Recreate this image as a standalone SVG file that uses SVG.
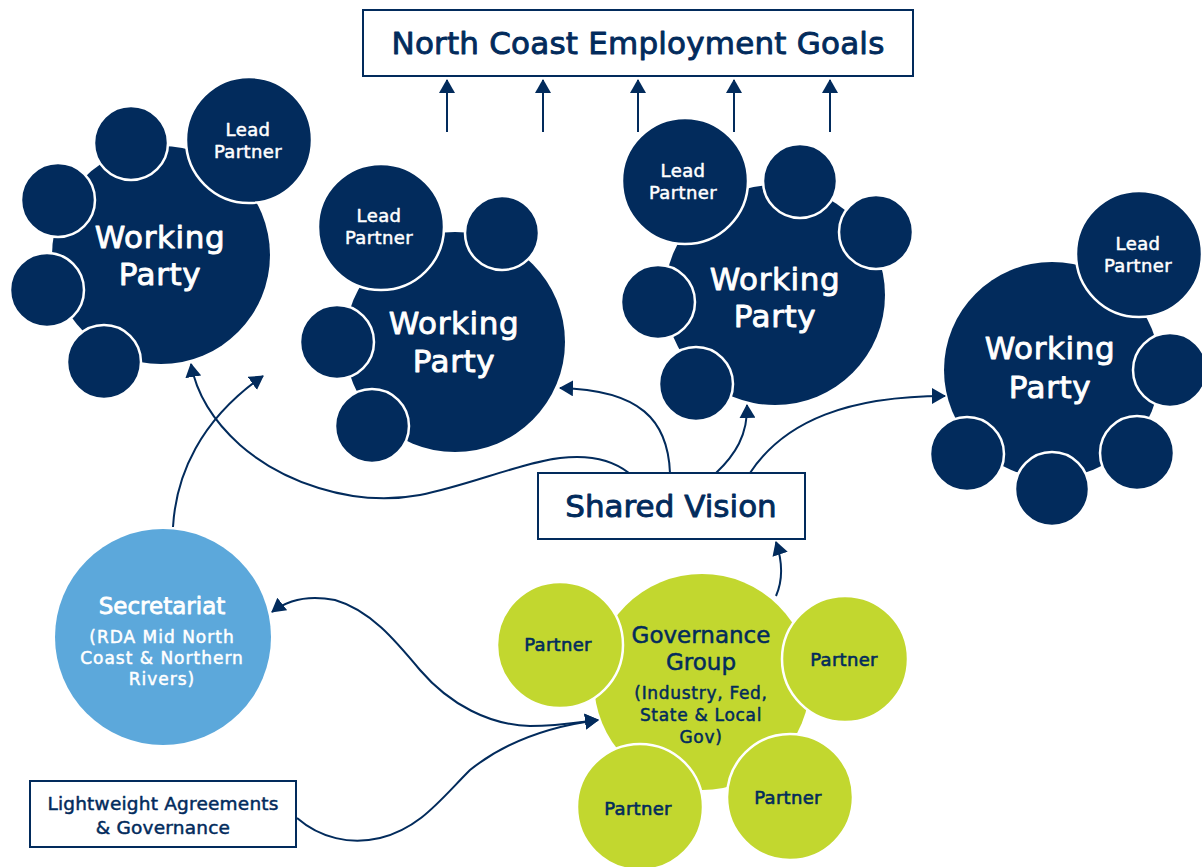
<svg xmlns="http://www.w3.org/2000/svg" width="1202" height="867" viewBox="0 0 1202 867">
  <style>
    .navy { fill: #022b5c; }
    .sub { fill: #022b5c; stroke: #ffffff; stroke-width: 2.5; }
    .lime { fill: #c2d72f; }
    .limesub { fill: #c2d72f; stroke: #ffffff; stroke-width: 2.5; }
    .box { fill: #ffffff; stroke: #022b5c; stroke-width: 2; }
    text { font-family: "DejaVu Sans", "Noto Sans", sans-serif; text-anchor: middle; stroke-linejoin: round; }
    .wp { font-size: 31px; letter-spacing: 0.6px; fill: #ffffff; stroke: #ffffff; stroke-width: 0.9px; }
    .lead { font-size: 18px; letter-spacing: 0.4px; fill: #ffffff; stroke: #ffffff; stroke-width: 0.5px; }
    .light { font-size: 17px; letter-spacing: 1px; fill: #ffffff; stroke: #ffffff; stroke-width: 0.5px; }
    .dark { fill: #022b5c; stroke: #022b5c; stroke-width: 0.5px; }
    .heavy { stroke-width: 0.9px; }
    .partner { font-size: 18px; letter-spacing: 0.3px; fill: #022b5c; stroke: #022b5c; stroke-width: 0.6px; }
    .conn { fill: none; stroke: #022b5c; stroke-width: 2; }
  </style>
  <defs>
    <marker id="arrow" viewBox="0 0 14 16" refX="13" refY="8" markerWidth="14" markerHeight="16" markerUnits="userSpaceOnUse" orient="auto-start-reverse">
      <path d="M0,0 L14,8 L0,16 z" fill="#022b5c"/>
    </marker>
  </defs>

  <rect width="1202" height="867" fill="#ffffff"/>

  <!-- Goals box -->
  <g id="goals">
    <rect class="box" x="363" y="10" width="550" height="66"/>
    <text class="dark heavy" x="638" y="54" font-size="31" letter-spacing="0.2">North Coast Employment Goals</text>
  </g>

  <!-- Working party 1 -->
  <g id="wp1">
    <circle class="navy" cx="161" cy="255" r="109"/>
    <circle class="sub" cx="131" cy="143" r="37"/>
    <circle class="sub" cx="58" cy="200" r="37"/>
    <circle class="sub" cx="47" cy="290" r="37"/>
    <circle class="sub" cx="104" cy="362" r="37"/>
    <circle class="sub" cx="249" cy="140" r="63"/>
    <text class="lead" x="248" y="136">Lead</text>
    <text class="lead" x="248" y="158">Partner</text>
    <text class="wp" x="160" y="248">Working</text>
    <text class="wp" x="160" y="285">Party</text>
  </g>

  <!-- Working party 2 -->
  <g id="wp2">
    <circle class="navy" cx="455" cy="342" r="110"/>
    <circle class="sub" cx="502" cy="233" r="37"/>
    <circle class="sub" cx="337" cy="342" r="37"/>
    <circle class="sub" cx="372" cy="426" r="37"/>
    <circle class="sub" cx="381" cy="227" r="63"/>
    <text class="lead" x="379" y="222">Lead</text>
    <text class="lead" x="379" y="244">Partner</text>
    <text class="wp" x="454" y="334">Working</text>
    <text class="wp" x="454" y="372">Party</text>
  </g>

  <!-- Working party 3 -->
  <g id="wp3">
    <circle class="navy" cx="775" cy="295" r="110"/>
    <circle class="sub" cx="800" cy="181" r="37"/>
    <circle class="sub" cx="876" cy="232" r="37"/>
    <circle class="sub" cx="658" cy="302" r="37"/>
    <circle class="sub" cx="696" cy="384" r="37"/>
    <circle class="sub" cx="685" cy="181" r="63"/>
    <text class="lead" x="683" y="177">Lead</text>
    <text class="lead" x="683" y="199">Partner</text>
    <text class="wp" x="775" y="290">Working</text>
    <text class="wp" x="775" y="327">Party</text>
  </g>

  <!-- Working party 4 -->
  <g id="wp4">
    <circle class="navy" cx="1052" cy="370" r="108"/>
    <circle class="sub" cx="1170" cy="370" r="37"/>
    <circle class="sub" cx="967" cy="454" r="37"/>
    <circle class="sub" cx="1137" cy="453" r="37"/>
    <circle class="sub" cx="1052" cy="489" r="37"/>
    <circle class="sub" cx="1139" cy="254" r="63"/>
    <text class="lead" x="1138" y="250">Lead</text>
    <text class="lead" x="1138" y="272">Partner</text>
    <text class="wp" x="1050" y="359">Working</text>
    <text class="wp" x="1050" y="398">Party</text>
  </g>

  <!-- Shared vision box -->
  <g id="vision">
    <rect class="box" x="538" y="473" width="267" height="66"/>
    <text class="dark heavy" x="671" y="517" font-size="31">Shared Vision</text>
  </g>

  <!-- Secretariat -->
  <g id="secretariat">
    <circle cx="163" cy="637" r="108" fill="#5ca8db"/>
    <text x="162" y="614" font-size="23" fill="#ffffff" stroke="#ffffff" stroke-width="0.8">Secretariat</text>
    <text class="light" x="162" y="643">(RDA Mid North</text>
    <text class="light" x="162" y="664">Coast &amp; Northern</text>
    <text class="light" x="162" y="685">Rivers)</text>
  </g>

  <!-- Governance group -->
  <g id="governance">
    <circle class="lime" cx="702" cy="682" r="108"/>
    <circle class="limesub" cx="560" cy="645" r="63"/>
    <circle class="limesub" cx="845" cy="659" r="63"/>
    <circle class="limesub" cx="640" cy="807" r="63"/>
    <circle class="limesub" cx="790" cy="797" r="63"/>
    <text class="dark" x="701" y="643" font-size="23" stroke-width="1">Governance</text>
    <text class="dark" x="701" y="670" font-size="23" stroke-width="1">Group</text>
    <text class="dark" x="701" y="699" font-size="17" letter-spacing="0.7">(Industry, Fed,</text>
    <text class="dark" x="701" y="721" font-size="17" letter-spacing="0.7">State &amp; Local</text>
    <text class="dark" x="701" y="743" font-size="17" letter-spacing="0.7">Gov)</text>
    <text class="partner" x="558" y="651">Partner</text>
    <text class="partner" x="844" y="666">Partner</text>
    <text class="partner" x="638" y="815">Partner</text>
    <text class="partner" x="788" y="804">Partner</text>
  </g>

  <!-- Agreements box -->
  <g id="agreements">
    <rect class="box" x="30" y="781" width="266" height="66"/>
    <text class="dark" x="163" y="810" font-size="18.5" letter-spacing="0.2">Lightweight Agreements</text>
    <text class="dark" x="163" y="834" font-size="18.5" letter-spacing="0.2">&amp; Governance</text>
  </g>

  <!-- Connectors -->
  <g id="connectors">
    <path class="conn" d="M447,132 L447,80" marker-end="url(#arrow)"/>
    <path class="conn" d="M543,132 L543,80" marker-end="url(#arrow)"/>
    <path class="conn" d="M638,132 L638,80" marker-end="url(#arrow)"/>
    <path class="conn" d="M734,132 L734,80" marker-end="url(#arrow)"/>
    <path class="conn" d="M830,132 L830,80" marker-end="url(#arrow)"/>

    <path class="conn" d="M629,473 C610,458 585,455 560,458 C520,463 470,485 420,495 C350,508 280,480 240,445 C210,418 196,392 191,364" marker-end="url(#arrow)"/>
    <path class="conn" d="M173,527 C176,475 200,420 263,376" marker-end="url(#arrow)"/>
    <path class="conn" d="M670,473 C668,420 640,390 560,388" marker-end="url(#arrow)"/>
    <path class="conn" d="M716,473 C735,455 748,435 747,405" marker-end="url(#arrow)"/>
    <path class="conn" d="M750,473 C785,420 850,396 945,396" marker-end="url(#arrow)"/>
    <path class="conn" d="M776,596 C783,580 782,560 776,542" marker-end="url(#arrow)"/>

    <path class="conn" d="M272,612 C290,598 310,595 335,600 C370,610 395,640 420,670 C450,705 490,725 530,726 C560,726 580,722 598,720" marker-start="url(#arrow)" marker-end="url(#arrow)"/>
    <path class="conn" d="M297,818 C320,838 350,845 380,838 C420,828 440,800 470,770 C510,738 560,725 598,720" marker-end="url(#arrow)"/>
  </g>
</svg>
